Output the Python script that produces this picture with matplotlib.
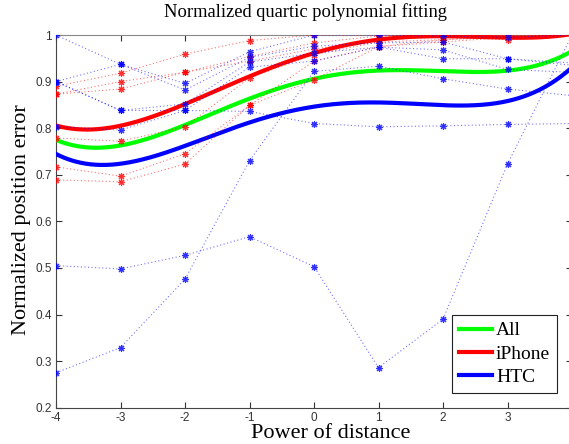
"""Normalized quartic polynomial fitting: per-device error curves with quartic fits."""

import matplotlib

matplotlib.use("Agg")
import matplotlib.pyplot as plt
import numpy as np

# Power of distance (x positions shared by every series)
POWERS = [-4, -3, -2, -1, 0, 1, 2, 3, 4]

# Individual HTC runs (blue dotted lines)
HTC_RUNS = [
    [1.000, 0.937, 0.896, 0.964, 1.000, 1.000, 0.998, 0.995, 1.000],
    [0.900, 0.937, 0.882, 0.952, 0.976, 0.983, 0.985, 0.949, 0.935],
    [0.900, 0.838, 0.852, 0.942, 0.961, 0.974, 0.968, 0.926, 0.920],
    [0.803, 0.796, 0.838, 0.931, 0.944, 0.974, 0.949, 0.949, 0.940],
    [0.900, 0.838, 0.838, 0.836, 0.810, 0.803, 0.805, 0.808, 0.810],
    [0.505, 0.498, 0.527, 0.567, 0.503, 0.286, 0.390, 0.723, 1.000],
    [0.275, 0.329, 0.476, 0.730, 0.922, 0.933, 0.906, 0.884, 0.870],
]

# Individual iPhone runs (red dotted lines)
IPHONE_RUNS = [
    [0.890, 0.918, 0.959, 0.988, 1.000, 1.000, 1.000, 1.000, 1.000],
    [0.873, 0.900, 0.920, 0.954, 0.983, 0.998, 1.000, 1.000, 1.000],
    [0.873, 0.884, 0.920, 0.944, 0.970, 0.990, 0.995, 0.990, 1.000],
    [0.779, 0.772, 0.803, 0.908, 0.958, 0.985, 0.990, 0.995, 1.000],
    [0.717, 0.697, 0.745, 0.849, 0.944, 0.975, 0.990, 0.998, 1.000],
    [0.689, 0.685, 0.723, 0.849, 0.904, 0.975, 0.985, 0.995, 1.000],
]

# Fitted curve values at each power
FIT_ALL = [0.775, 0.763, 0.806, 0.864, 0.907, 0.923, 0.921, 0.925, 0.965]
FIT_IPHONE = [0.806, 0.804, 0.853, 0.911, 0.961, 0.990, 0.997, 0.995, 1.002]
FIT_HTC = [0.745, 0.723, 0.761, 0.815, 0.845, 0.855, 0.848, 0.860, 0.930]

SERIES = [("All", FIT_ALL, "#00ff00"), ("iPhone", FIT_IPHONE, "#ff0000"), ("HTC", FIT_HTC, "#0000ff")]

SERIF = ["Liberation Serif", "DejaVu Serif"]
SANS = ["Liberation Sans", "DejaVu Sans"]
ASTERISK = (8, 2, 0)


def main() -> None:
    plt.rcParams["axes.unicode_minus"] = False
    fig = plt.figure(figsize=(5.69, 4.44), dpi=100)
    ax = fig.add_axes([56 / 569, 36.3 / 444, 516 / 569, 372.7 / 444])

    xs = np.linspace(POWERS[0], POWERS[-1], 400)
    for name, vals, color in SERIES:
        coef = np.polyfit(POWERS, vals, 4)
        ax.plot(xs, np.polyval(coef, xs), color=color, lw=3.0, label=name, zorder=3)

    for runs, color in ((IPHONE_RUNS, "#ff0000"), (HTC_RUNS, "#0000ff")):
        for run in runs:
            ax.plot(POWERS, run, color=color, lw=0.8, ls=(0, (1, 2.2)), alpha=0.55,
                    zorder=4)
            ax.plot(POWERS, run, ls="none", marker=ASTERISK, ms=5, mew=0.8,
                    color=color, alpha=0.8, zorder=5)

    ax.set_xlim(-4, 4)
    ax.set_ylim(0.2, 1.0)
    ax.set_xticks(POWERS)
    ax.set_yticks(np.round(np.arange(0.2, 1.01, 0.1), 1))
    ax.set_yticklabels(["0.2", "0.3", "0.4", "0.5", "0.6", "0.7", "0.8", "0.9", "1"])
    ax.tick_params(direction="in", top=True, right=True, length=4, width=0.8,
                   colors="#333333", labelsize=8.5, pad=3)
    for lab in ax.get_xticklabels() + ax.get_yticklabels():
        lab.set_family(SANS)
    for side in ("left", "bottom"):
        ax.spines[side].set_color("#444444")
    for side in ("top", "right"):
        ax.spines[side].set_color("#888888")

    fig.text(306 / 569, 1 - 12 / 444, "Normalized quartic polynomial fitting",
             ha="center", va="center", family=SERIF, fontsize=13.3)
    fig.text(331 / 569, 1 - 433 / 444, "Power of distance",
             ha="center", va="center", family=SERIF, fontsize=16)
    fig.text(22 / 569, 1 - 220 / 444, "Normalized position error", rotation=90,
             ha="center", va="center", family=SERIF, fontsize=16)

    leg = ax.legend(loc="lower right", bbox_to_anchor=(0.971, 0.0394), borderaxespad=0,
                    prop={"family": SERIF, "size": 14}, fancybox=False,
                    framealpha=1, edgecolor="#222222", handlelength=1.7,
                    borderpad=0.35, labelspacing=0.3, handletextpad=0.2)
    leg.get_frame().set_linewidth(0.8)
    for line in leg.get_lines():
        line.set_linewidth(3.0)

    fig.savefig("out.png", dpi=100)


if __name__ == "__main__":
    main()
